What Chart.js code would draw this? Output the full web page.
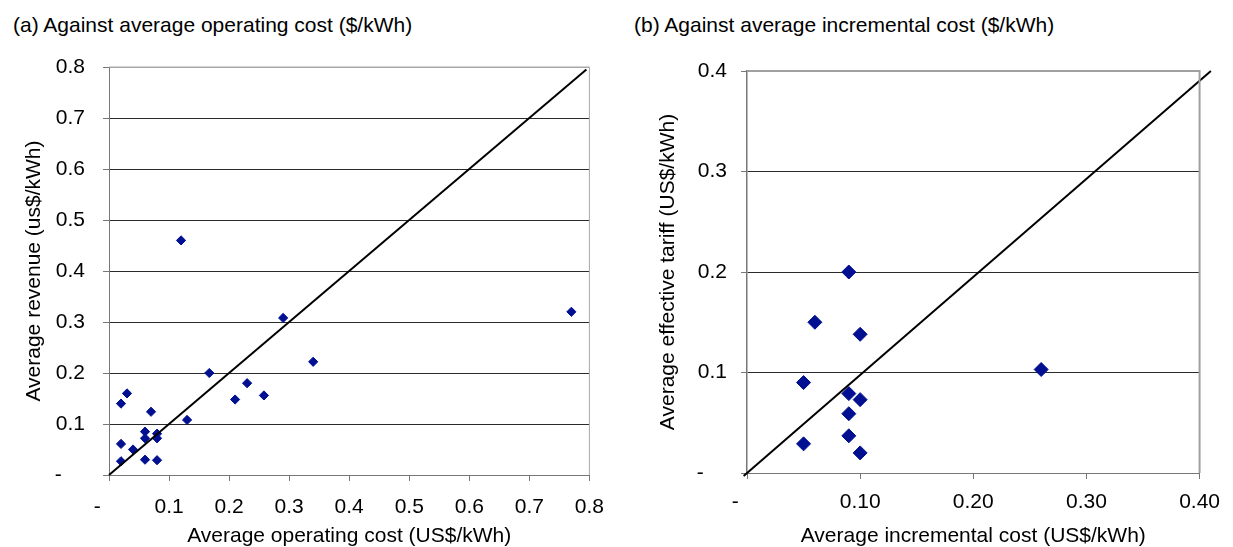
<!DOCTYPE html>
<html>
<head>
<meta charset="utf-8">
<script src="https://cdn.jsdelivr.net/npm/chart.js@4.4.1/dist/chart.umd.min.js"></script>
<style>
  html, body { margin: 0; padding: 0; background: #fff; }
  body { width: 1233px; height: 547px; position: relative; overflow: hidden;
         font-family: "Liberation Sans", Arial, sans-serif; }
  .head { position: absolute; top: 14px; font-size: 21px; line-height: 21px; color: #000; white-space: nowrap; }
  .box { position: absolute; top: 0; height: 547px; }
</style>
</head>
<body>
<div class="head" style="left:13px">(a) Against average operating cost ($/kWh)</div>
<div class="head" style="left:634px">(b) Against average incremental cost ($/kWh)</div>
<div class="box" style="left:0;width:620px"><canvas id="chartA"></canvas></div>
<div class="box" style="left:620px;width:613px"><canvas id="chartB"></canvas></div>

<script>
// (a) average operating cost vs average revenue, US$/kWh
const opCost  = [0.02, 0.03, 0.07, 0.02, 0.02, 0.04, 0.06, 0.06, 0.06, 0.08, 0.08, 0.08, 0.13, 0.167, 0.21, 0.23, 0.258, 0.29, 0.34, 0.12, 0.77];
const revenue = [0.14, 0.16, 0.124, 0.061, 0.027, 0.05, 0.085, 0.072, 0.03, 0.081, 0.072, 0.029, 0.108, 0.2, 0.148, 0.18, 0.156, 0.308, 0.222, 0.46, 0.32];
const parityA = [[0, 0], [0.795, 0.795]];

// (b) average incremental cost vs average effective tariff, US$/kWh
const incCost = [0.06, 0.10, 0.05, 0.09, 0.10, 0.09, 0.09, 0.05, 0.10, 0.26, 0.09];
const tariff  = [0.15, 0.138, 0.09, 0.079, 0.073, 0.059, 0.037, 0.029, 0.02, 0.103, 0.2];
const parityB = [[-0.003, -0.003], [0.41, 0.4]];

// tick labels
const ticksA  = ["-", "0.1", "0.2", "0.3", "0.4", "0.5", "0.6", "0.7", "0.8"];
const xTicksB = ["-", "0.10", "0.20", "0.30", "0.40"];
const yTicksB = ["-", "0.1", "0.2", "0.3", "0.4"];

const FONT = "'Liberation Sans', Arial, sans-serif";
const NAVY = "#001090";
const DASH_PAD = "    "; // excel accounting zero shows as a dash shifted left

function label(list) {
    return (v, i) => list[i] === "-" ? "-" + DASH_PAD : list[i];
}
function pts(xs, ys) {
    return xs.map((x, i) => ({ x: x, y: ys[i] }));
}

// gray frame on the top and right of the plot area
const framePlugin = {
    id: "frame",
    afterDatasetsDraw(chart, args, opts) {
        const a = chart.chartArea, ctx = chart.ctx;
        ctx.save();
        ctx.strokeStyle = opts.color;
        ctx.lineWidth = opts.width;
        ctx.beginPath();
        ctx.moveTo(a.left, a.top);
        ctx.lineTo(a.right, a.top);
        ctx.lineTo(a.right, a.bottom);
        ctx.stroke();
        ctx.restore();
    }
};

function makeChart(id, cfg) {
    return new Chart(document.getElementById(id), {
        type: "scatter",
        data: {
            datasets: [{
                data: cfg.points,
                pointStyle: "rectRot",
                pointRadius: cfg.radius,
                pointBorderWidth: 1,
                backgroundColor: NAVY,
                borderColor: NAVY,
                order: 2
            }, {
                type: "line",
                data: cfg.parity.map(p => ({ x: p[0], y: p[1] })),
                borderColor: "#000",
                borderWidth: 2,
                pointRadius: 0,
                clip: false,
                order: 1
            }]
        },
        options: {
            responsive: true,
            maintainAspectRatio: false,
            animation: false,
            layout: { padding: cfg.padding },
            scales: {
                x: {
                    type: "linear",
                    min: 0, max: cfg.xMax,
                    ticks: { stepSize: cfg.xStep, callback: label(cfg.xTicks), color: "#000",
                             font: { family: FONT, size: 21, lineHeight: 1 }, padding: cfg.xPad, maxRotation: 0,
                             autoSkip: false },
                    grid: { drawOnChartArea: false, drawTicks: true, tickLength: 6, tickColor: "#777" },
                    border: { color: "#777", width: 1 },
                    title: { display: true, text: cfg.xTitle, color: "#000",
                             font: { family: FONT, size: 21, lineHeight: 1 }, padding: 0 },
                    afterFit: s => { s.height = cfg.xHeight; }
                },
                y: {
                    min: 0, max: cfg.yMax,
                    ticks: { stepSize: cfg.yStep, callback: label(cfg.yTicks), color: "#000",
                             font: { family: FONT, size: 21, lineHeight: 1 }, padding: cfg.yPad,
                             autoSkip: false },
                    grid: { color: c => c.tick && Math.abs(c.tick.value - cfg.yMax) < 1e-9 ? cfg.frameColor : "#2a2a2a",
                            lineWidth: 1, tickLength: 6, tickColor: "#777" },
                    border: { color: "#777", width: cfg.axisWidth },
                    title: { display: true, text: cfg.yTitle, color: "#000",
                             font: { family: FONT, size: 21, lineHeight: 1 }, padding: { top: cfg.yTitlePad } },
                    afterFit: s => { s.width = cfg.yWidth; }
                }
            },
            plugins: {
                legend: { display: false },
                tooltip: { enabled: false },
                frame: { color: cfg.frameColor, width: cfg.frameWidth }
            }
        },
        plugins: [framePlugin]
    });
}

makeChart("chartA", {
    points: pts(opCost, revenue),
    parity: parityA,
    radius: 4.6,
    xMax: 0.8, xStep: 0.1, xTicks: ticksA,
    yMax: 0.8, yStep: 0.1, yTicks: ticksA,
    xTitle: "Average operating cost (US$/kWh)",
    yTitle: "Average revenue (us$/kWh)",
    padding: { top: 67, right: 20, left: 0, bottom: 0 },
    xHeight: 72, yWidth: 109,
    xPad: 16, yPad: 18, yTitlePad: 24,
    axisWidth: 1,
    frameColor: "#a8a8a8", frameWidth: 1
});

makeChart("chartB", {
    points: pts(incCost, tariff),
    parity: parityB,
    radius: 7,
    xMax: 0.4, xStep: 0.1, xTicks: xTicksB,
    yMax: 0.4, yStep: 0.1, yTicks: yTicksB,
    xTitle: "Average incremental cost (US$/kWh)",
    yTitle: "Average effective tariff (US$/kWh)",
    padding: { top: 71, right: 21, left: 0, bottom: 0 },
    xHeight: 74, yWidth: 127,
    xPad: 13, yPad: 14, yTitlePad: 38,
    axisWidth: 1.5,
    frameColor: "#a0a0a0", frameWidth: 2
});
</script>
</body>
</html>
